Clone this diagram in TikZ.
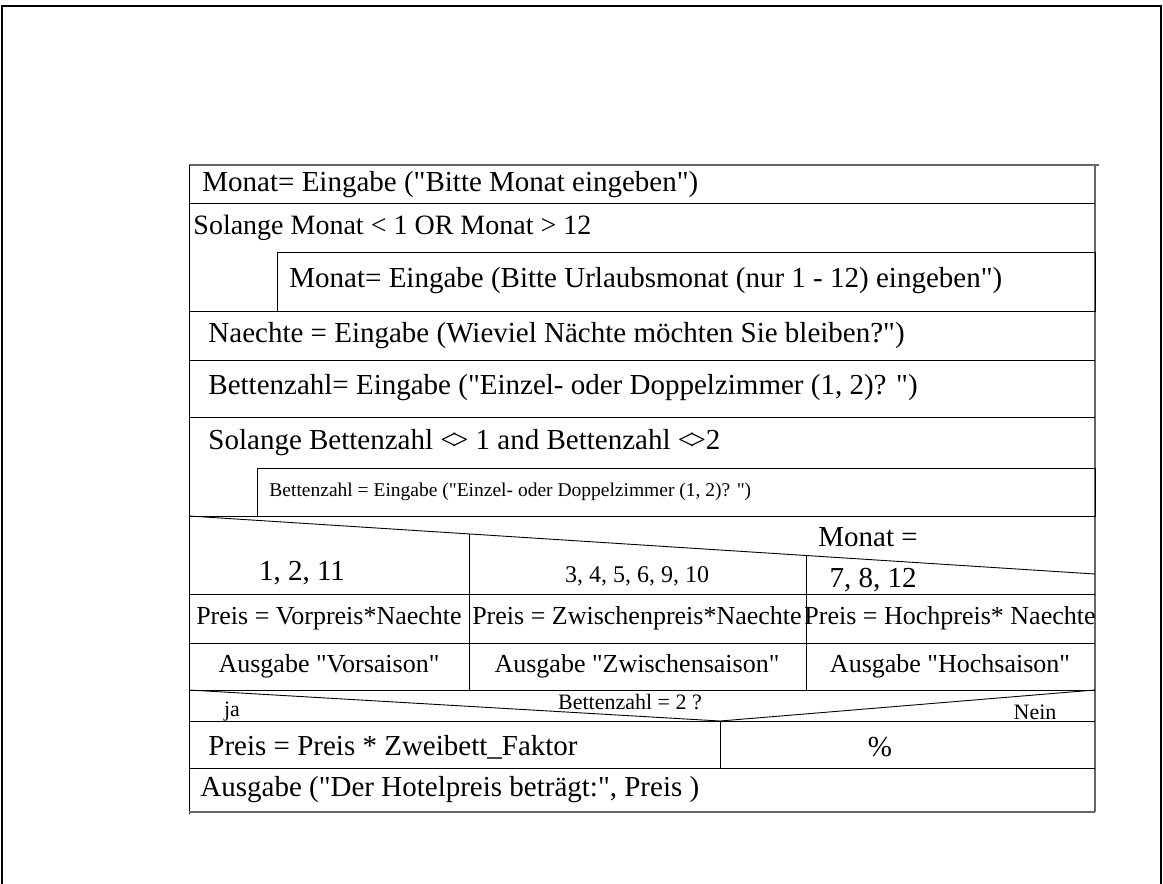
\documentclass[tikz,border=0pt]{standalone}
\usepackage{fontspec}
\setmainfont{Liberation Serif}[Ligatures=TeXOff]
\newcommand{\ungleich}{\mbox{<\kern-0.16em>}}

\begin{document}
\begin{tikzpicture}[x=1pt, y=-1pt, line width=0.9pt,
    gross/.style={font=\fontsize{29}{31}\selectfont, inner sep=0pt},
    mittel/.style={font=\fontsize{26}{28}\selectfont, inner sep=0pt},
    klein/.style={font=\fontsize{22}{24}\selectfont, inner sep=0pt},
    rand/.style={color=black!60, line width=2pt}]
  \useasboundingbox (0,0) rectangle (1163,884);

  \draw[line width=1.6pt] (2,884) -- (2,6) -- (1161,6) -- (1161,884);
  \draw[line width=2.6pt] (2,6) -- (1161,6);

  \draw[rand] (189,165) -- (1099,165);
  \draw[rand] (1095,165) -- (1095,812);
  \draw (189,165) -- (189,814);

  \draw (189,203) -- (1095,203);
  \draw (277,252) rectangle (1095,311);
  \draw (189,311) -- (1095,311);
  \draw (189,360) -- (1095,360);
  \draw (189,417) -- (1095,417);
  \draw (257,468) rectangle (1095,516);
  \draw (189,516) -- (1095,516);

  \draw (189,516) -- (1095,574);
  \draw (469,533.9) -- (469,690);
  \draw (806,555.5) -- (806,690);
  \draw (189,594) -- (1095,594);
  \draw (189,643) -- (1095,643);
  \draw (189,690) -- (1095,690);

  \draw (189,690) -- (720,721) -- (1095,690);
  \draw (189,721) -- (1095,721);
  \draw (720,721) -- (720,768);
  \draw (189,768) -- (1095,768);
  \draw[rand] (189,812) -- (1095,812);

  \node[gross, anchor=west] (monat) at (202,185) {Monat= Eingabe ("Bitte Monat eingeben")};
  \node[gross, font=\fontsize{28}{30}\selectfont, anchor=west] (solange1) at (193,228) {Solange Monat < 1 OR Monat > 12};
  \node[gross, anchor=west] (urlaub) at (289,281) {Monat= Eingabe (Bitte Urlaubsmonat (nur 1 - 12) eingeben")};
  \node[gross, anchor=west] (naechte) at (208,336) {Naechte = Eingabe (Wieviel Nächte möchten Sie bleiben?")};
  \node[gross, anchor=west] (betten1) at (208,388) {Bettenzahl= Eingabe ("Einzel- oder Doppelzimmer (1, 2)? ")};
  \node[gross, anchor=west] (solange2) at (208,443) {Solange Bettenzahl \ungleich\ 1 and Bettenzahl \ungleich2};
  \node[font=\fontsize{19.5}{21}\selectfont, inner sep=0pt, anchor=west] (betten2) at (269,492) {Bettenzahl = Eingabe ("Einzel- oder Doppelzimmer (1, 2)? ")};

  \node[gross] (fall) at (868,537) {Monat =};
  \node[gross] (vor) at (302,573) {1, 2, 11};
  \node[font=\fontsize{24}{26}\selectfont, inner sep=0pt] (zwischen) at (637,576) {3, 4, 5, 6, 9, 10};
  \node[gross] (hoch) at (873,580) {7, 8, 12};

  \node[mittel] (preis1) at (329,618) {Preis = Vorpreis*Naechte};
  \node[mittel] (preis2) at (637,618) {Preis = Zwischenpreis*Naechte};
  \node[mittel] (preis3) at (950,618) {Preis = Hochpreis* Naechte};

  \node[mittel] (saison1) at (329,666) {Ausgabe "Vorsaison"};
  \node[mittel] (saison2) at (637,666) {Ausgabe "Zwischensaison"};
  \node[mittel] (saison3) at (950,666) {Ausgabe "Hochsaison"};

  \node[klein] (frage) at (630,702) {Bettenzahl = 2 ?};
  \node[klein] (ja) at (232,712) {ja};
  \node[klein] (nein) at (1035,712) {Nein};

  \node[gross, anchor=west] (faktor) at (208,747) {Preis = Preis * Zweibett\_Faktor};
  \node[gross] (leer) at (880,747) {\%};
  \node[gross, anchor=west] (ausgabe) at (200,790) {Ausgabe ("Der Hotelpreis beträgt:", Preis )};
\end{tikzpicture}
\end{document}
